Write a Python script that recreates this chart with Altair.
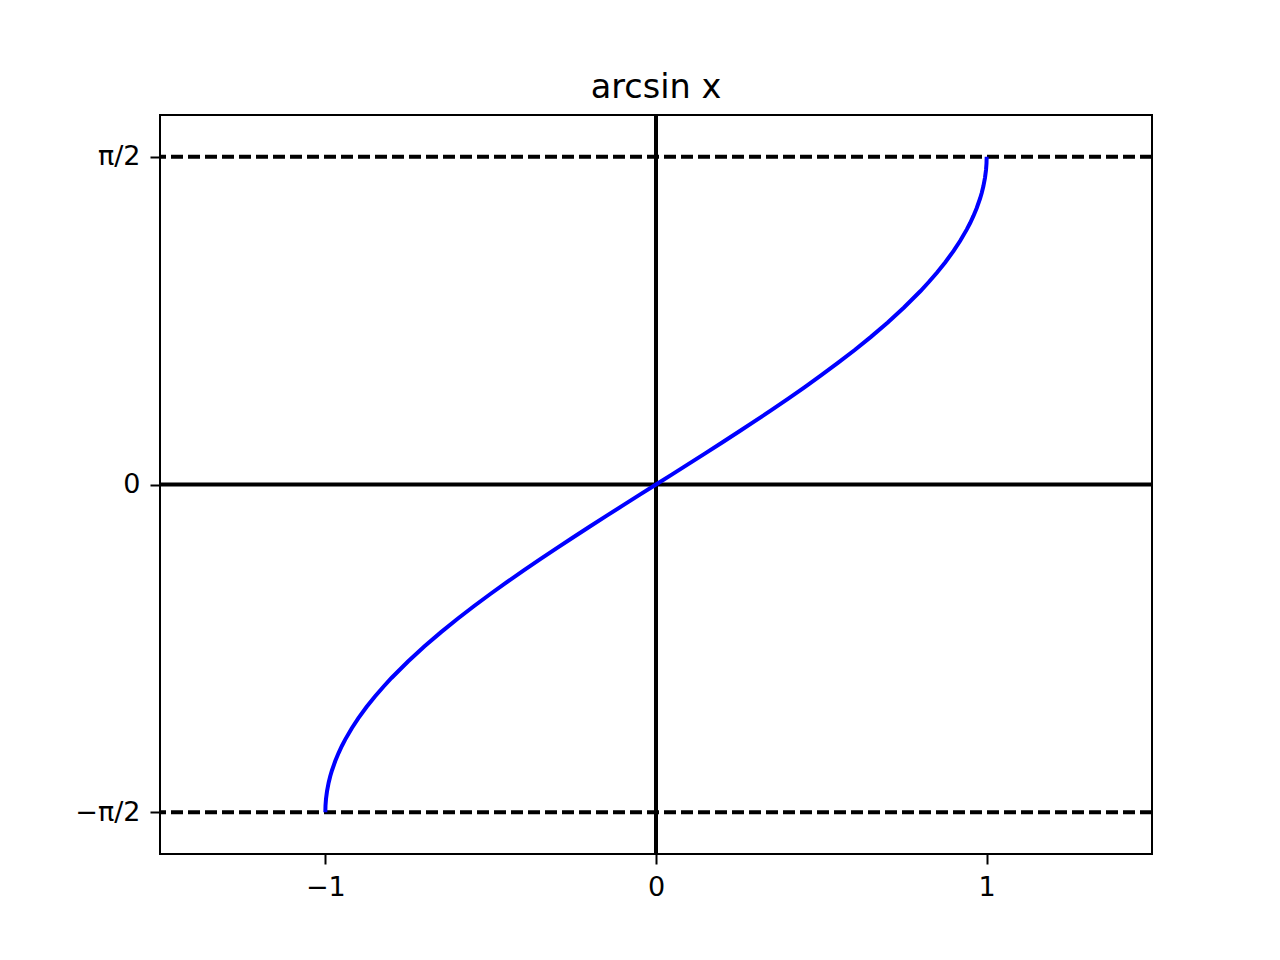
import altair as alt
import pandas as pd

HALF_PI = 1.5707963

# curve points (arcsin x)
x_vals = [-1.0, -0.9995, -0.998, -0.995, -0.99, -0.985, -0.98, -0.97, -0.96, -0.95, -0.94,
          -0.92, -0.9, -0.875, -0.85, -0.825, -0.8, -0.75, -0.7, -0.65, -0.6, -0.55, -0.5,
          -0.45, -0.4, -0.35, -0.3, -0.25, -0.2, -0.15, -0.1, -0.05, 0.0,
          0.05, 0.1, 0.15, 0.2, 0.25, 0.3, 0.35, 0.4, 0.45, 0.5, 0.55, 0.6, 0.65, 0.7,
          0.75, 0.8, 0.825, 0.85, 0.875, 0.9, 0.92, 0.94, 0.95, 0.96, 0.97, 0.98, 0.985,
          0.99, 0.995, 0.998, 0.9995, 1.0]
y_vals = [-1.5708, -1.5392, -1.5075, -1.4708, -1.4293, -1.3967, -1.3705, -1.3252, -1.2870,
          -1.2532, -1.2226, -1.1681, -1.1198, -1.0654, -1.0160, -0.9703, -0.9273, -0.8481,
          -0.7754, -0.7076, -0.6435, -0.5824, -0.5236, -0.4668, -0.4115, -0.3576, -0.3047,
          -0.2527, -0.2014, -0.1506, -0.1002, -0.0500, 0.0,
          0.0500, 0.1002, 0.1506, 0.2014, 0.2527, 0.3047, 0.3576, 0.4115, 0.4668, 0.5236,
          0.5824, 0.6435, 0.7076, 0.7754, 0.8481, 0.9273, 0.9703, 1.0160, 1.0654, 1.1198,
          1.1681, 1.2226, 1.2532, 1.2870, 1.3252, 1.3705, 1.3967, 1.4293, 1.4708, 1.5075,
          1.5392, 1.5708]

x_ticks = [-1, 0, 1]
y_ticks = [-HALF_PI, 0, HALF_PI]
dash_levels = [-HALF_PI, HALF_PI]

df = pd.DataFrame({"x": x_vals, "y": y_vals})
dash_df = pd.DataFrame({"y": dash_levels})

FONT = "DejaVu Sans"

xscale = alt.Scale(domain=[-1.5, 1.5], nice=False, zero=False)
yscale = alt.Scale(domain=[-1.7708, 1.7708], nice=False, zero=False)

xaxis = alt.Axis(values=x_ticks, title=None, grid=False, domain=False,
                 tickColor="black", tickWidth=2, tickSize=10, labelPadding=10,
                 labelFont=FONT, labelFontSize=27, labelColor="black",
                 labelExpr="datum.value < 0 ? '\u2212' + format(abs(datum.value), 'd') : format(datum.value, 'd')")
yaxis = alt.Axis(values=y_ticks, title=None, grid=False, domain=False,
                 tickColor="black", tickWidth=2, tickSize=10, labelPadding=10,
                 labelFont=FONT, labelFontSize=27, labelColor="black",
                 labelExpr="datum.value > 0.1 ? '\u03c0/2' : (datum.value < -0.1 ? '\u2212\u03c0/2' : '0')")

curve = alt.Chart(df).mark_line(color="#0000ff", strokeWidth=4, clip=True).encode(
    x=alt.X("x:Q", scale=xscale, axis=xaxis),
    y=alt.Y("y:Q", scale=yscale, axis=yaxis),
    order="x:Q",
)

hline = alt.Chart(pd.DataFrame({"v": [0]})).mark_rule(color="black", strokeWidth=4).encode(
    y=alt.Y("v:Q", scale=yscale)
)
vline = alt.Chart(pd.DataFrame({"v": [0]})).mark_rule(color="black", strokeWidth=4).encode(
    x=alt.X("v:Q", scale=xscale)
)
dashes = alt.Chart(dash_df).mark_rule(color="black", strokeWidth=4, strokeDash=[12, 5]).encode(
    y=alt.Y("y:Q", scale=yscale)
)

chart = alt.layer(hline, vline, dashes, curve).properties(
    width=992,
    height=739,
    background="white",
    title=alt.TitleParams("arcsin x", font=FONT, fontSize=33.5, fontWeight="normal",
                          color="black", anchor="middle", offset=8),
    autosize=alt.AutoSizeParams(type="none"),
    padding={"left": 152, "top": 107, "right": 120, "bottom": 98},
).configure_view(
    stroke="black", strokeWidth=2
)

chart.save("out.html", embed_options={"renderer": "svg", "actions": False})
